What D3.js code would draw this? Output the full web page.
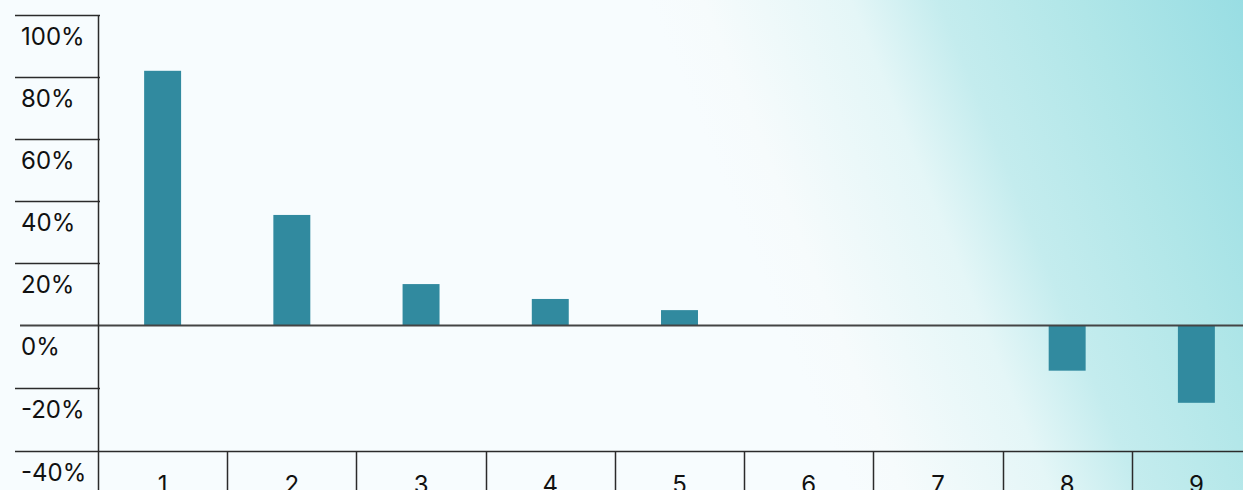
<!DOCTYPE html>
<html>
<head>
<meta charset="utf-8">
<script src="https://cdn.jsdelivr.net/npm/d3@7"></script>
<style>
  html, body { margin: 0; padding: 0; overflow: hidden; background: #f6fbfe; }
  svg { display: block; }
</style>
</head>
<body>
<svg id="chart" width="1243" height="490"></svg>
<script>
const categories = ["1", "2", "3", "4", "5", "6", "7", "8", "9"];
const values = [82, 35.5, 13.2, 8.4, 4.8, 0, 0, -14.5, -24.7];
const tickValues = [100, 80, 60, 40, 20, 0, -20, -40];
const tickLabels = ["100%", "80%", "60%", "40%", "20%", "0%", "-20%", "-40%"];

const W = 1243, H = 490;
const svg = d3.select("#chart");

// background gradient
const defs = svg.append("defs");
const grad = defs.append("linearGradient")
  .attr("id", "bg")
  .attr("gradientUnits", "userSpaceOnUse")
  .attr("x1", 555.6).attr("y1", -226.8)
  .attr("x2", 1074).attr("y2", -438.5);
[[0, "#f7fcfe"], [0.09, "#f6fbfc"], [0.334, "#e4f6f7"], [0.48, "#c4ecee"],
 [0.714, "#b0e6e8"], [1, "#97dde3"]].forEach(([o, c]) =>
  grad.append("stop").attr("offset", o).attr("stop-color", c));
svg.append("rect").attr("width", W).attr("height", H).attr("fill", "url(#bg)");

const x = d3.scaleBand().domain(categories).range([98, 1261]).paddingInner(0).paddingOuter(0);
const y = d3.scaleLinear().domain([-40, 0, 100]).range([451, 325, 15]);

const font = "Inter, 'Noto Sans', sans-serif";
const stroke = "#2b2b2b";

// bars
const barW = x.bandwidth() * 0.286;
svg.append("g").selectAll("rect").data(values).join("rect")
  .attr("x", (d, i) => x(categories[i]) + x.bandwidth() / 2 - barW / 2)
  .attr("y", d => y(Math.max(0, d)))
  .attr("width", barW)
  .attr("height", d => Math.abs(y(d) - y(0)))
  .attr("fill", "#318a9f");

// y tick lines (left of the axis)
const g = svg.append("g");
tickValues.forEach((v, i) => {
  const yy = Math.round(y(v)) + 0.5;
  const x0 = v === 0 ? 20 : 15;
  const x1 = (v === 0 || v === -40) ? W : 100;
  g.append("line").attr("x1", x0).attr("x2", x1).attr("y1", yy).attr("y2", yy)
    .attr("stroke", v === 0 ? "#444" : stroke).attr("stroke-width", v === 0 ? 2 : 1.5);
  g.append("text").attr("x", 21).attr("y", yy + 29)
    .attr("font-family", font).attr("font-size", 24).attr("fill", "#111")
    .text(tickLabels[i]);
});

// y axis line
g.append("line").attr("x1", 98.5).attr("x2", 98.5).attr("y1", y(100)).attr("y2", H)
  .attr("stroke", stroke).attr("stroke-width", 1.5);

// category separators and labels
categories.forEach((c, i) => {
  if (i > 0) {
    const xx = Math.round(x(c)) + 0.5;
    g.append("line").attr("x1", xx).attr("x2", xx).attr("y1", y(-40)).attr("y2", H)
      .attr("stroke", stroke).attr("stroke-width", 1.5);
  }
  g.append("text").attr("x", x(c) + x.bandwidth() / 2).attr("y", 493)
    .attr("text-anchor", "middle")
    .attr("font-family", font).attr("font-size", 24).attr("fill", "#111")
    .text(c);
});
</script>
</body>
</html>
